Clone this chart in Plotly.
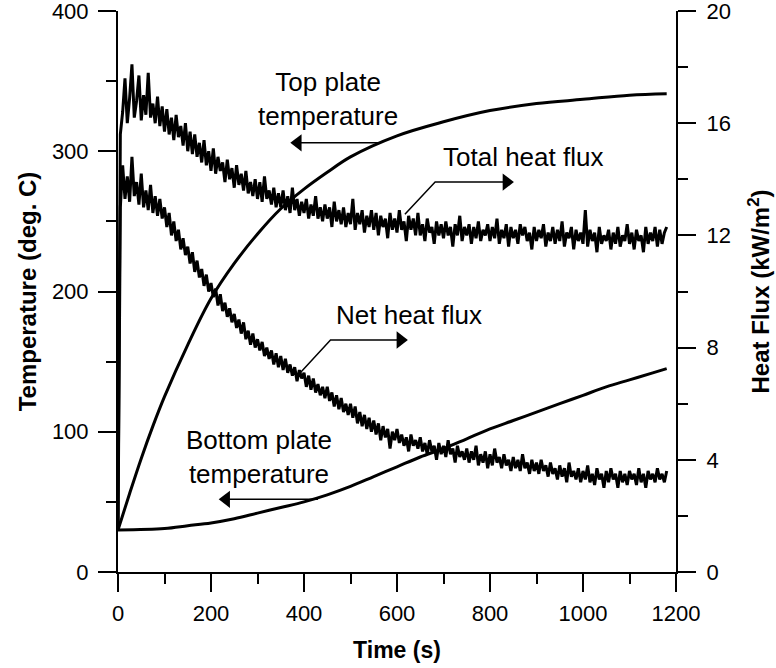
import plotly.graph_objects as go

# ---------------- data ----------------
time_flux = list(range(0, 1181, 5))

total_flux = [
    1.5, 15.6, 16.4, 17.6, 16.0, 16.9, 18.1, 16.2, 16.8, 17.7,
    16.1, 17.0, 16.3, 17.8, 16.2, 16.7, 16.0, 16.95, 15.9, 16.6,
    15.7, 16.5, 15.6, 16.2, 15.4, 16.3, 15.5, 15.9, 15.2, 16.0,
    15.0, 15.7, 14.9, 15.6, 14.8, 15.3, 14.6, 15.4, 14.5, 15.0,
    14.3, 15.1, 14.2, 14.8, 14.3, 14.6, 13.9, 14.7, 14.0, 14.4,
    13.7, 14.5, 13.8, 14.2, 13.6, 14.3, 13.5, 13.9, 13.4, 14.0,
    13.3, 13.9, 13.2, 14.1, 13.3, 13.6, 13.1, 13.7, 13.0, 13.5,
    13.0, 13.6, 12.9, 13.4, 12.8, 13.7, 12.9, 13.3, 12.7, 13.2,
    12.8, 13.3, 12.6, 13.1, 12.7, 13.4, 12.6, 13.0, 12.5, 13.1,
    12.6, 13.0, 12.3, 13.2, 12.5, 12.9, 12.4, 13.0, 12.3, 12.8,
    12.4, 13.3, 12.2, 12.8, 12.4, 12.9, 12.1, 12.7, 12.3, 12.9,
    12.2, 12.8, 12.0, 12.7, 12.3, 12.6, 11.9, 12.8, 12.2, 12.6,
    12.1, 12.9, 12.2, 12.5, 11.8, 12.7, 12.2, 12.6, 12.0, 12.8,
    12.0, 12.4, 11.8, 12.6, 12.1, 12.3, 11.7, 12.5, 12.0, 12.4,
    11.9, 12.5, 12.0, 12.3, 11.6, 12.4, 12.0, 12.7, 11.8, 12.3,
    12.0, 12.4, 11.7, 12.3, 11.9, 12.5, 11.8, 12.2, 12.0, 12.4,
    11.8, 12.3, 11.9, 12.6, 11.7, 12.2, 11.9, 12.4, 11.6, 12.3,
    11.9, 12.2, 11.7, 12.4, 12.0, 12.3, 11.8, 12.1, 11.5, 12.3,
    11.8, 12.2, 11.9, 12.4, 11.6, 12.1, 11.8, 12.3, 11.7, 12.2,
    11.8, 12.5, 11.6, 12.1, 11.9, 12.3, 11.5, 12.2, 11.8, 12.1,
    11.7, 12.9, 11.6, 12.2, 11.8, 12.1, 11.4, 12.3, 11.7, 12.0,
    11.8, 12.2, 11.5, 12.1, 11.7, 12.3, 11.6, 12.0, 11.8, 12.4,
    11.7, 12.1, 11.5, 12.2, 11.8, 12.0, 11.4, 12.3, 11.7, 12.1,
    11.8, 12.3, 11.6, 12.2, 11.7, 12.1, 12.3,
]

net_flux = [
    1.5, 13.0, 14.5, 13.3, 14.1, 13.2, 14.8, 13.4, 13.9, 13.1,
    14.2, 13.0, 13.6, 12.9, 13.8, 12.8, 13.4, 12.7, 13.3, 12.6,
    13.0, 12.3, 12.8, 12.0, 12.5, 11.8, 12.2, 11.5, 11.9, 11.3,
    11.6, 11.0, 11.4, 10.7, 11.1, 10.5, 10.8, 10.2, 10.6, 10.0,
    10.3, 9.8, 10.1, 9.5, 9.9, 9.3, 9.6, 9.1, 9.4, 8.9,
    9.2, 8.7, 9.0, 8.5, 8.9, 8.3, 8.6, 8.1, 8.5, 8.0,
    8.3, 7.9, 8.2, 7.7, 8.0, 7.6, 7.9, 7.4, 7.8, 7.3,
    7.7, 7.2, 7.6, 7.1, 7.4, 7.0, 7.3, 6.8, 7.2, 6.9,
    7.1, 6.6, 7.0, 6.5, 6.9, 6.4, 6.7, 6.3, 6.6, 6.2,
    6.6, 6.1, 6.4, 5.9, 6.3, 5.8, 6.2, 5.7, 6.0, 5.6,
    6.0, 5.5, 5.9, 5.3, 5.7, 5.2, 5.6, 5.1, 5.5, 5.0,
    5.4, 4.9, 5.3, 4.7, 5.2, 4.8, 5.1, 4.4, 5.0, 4.7,
    5.1, 4.6, 4.9, 4.5, 4.8, 4.3, 4.9, 4.5, 4.7, 4.4,
    4.8, 4.3, 4.6, 4.2, 4.7, 4.3, 4.5, 4.0, 4.6, 4.2,
    4.5, 4.1, 4.7, 4.2, 4.4, 3.9, 4.5, 4.1, 4.3, 4.0,
    4.4, 3.9, 4.3, 4.0, 4.5, 3.8, 4.2, 3.9, 4.3, 3.7,
    4.2, 3.8, 4.4, 3.9, 4.1, 3.7, 4.2, 3.8, 4.0, 3.6,
    4.1, 3.7, 4.0, 3.6, 4.2, 3.7, 3.9, 3.5, 4.0, 3.6,
    3.9, 3.5, 4.0, 3.6, 3.8, 3.4, 3.9, 3.5, 3.7, 3.3,
    3.8, 3.4, 3.7, 3.2, 3.9, 3.4, 3.6, 3.3, 3.7, 3.2,
    3.6, 3.3, 3.8, 3.2, 3.5, 3.1, 3.7, 3.3, 3.5, 3.0,
    3.6, 3.2, 3.7, 3.3, 3.5, 3.0, 3.6, 3.2, 3.5, 3.1,
    3.6, 3.3, 3.5, 3.1, 3.7, 3.2, 3.5, 3.0, 3.6, 3.3,
    3.5, 3.2, 3.7, 3.3, 3.5, 3.2, 3.6,
]

time_top = [0, 25, 50, 75, 100, 150, 200, 250, 300, 350, 400, 450, 500,
            600, 700, 800, 900, 1000, 1100, 1180]
top_temp = [30, 56, 81, 104, 125, 162, 195, 220, 241, 259, 273, 285, 296,
            311, 321, 329, 334, 337, 340, 341]

time_bot = [0, 100, 150, 200, 250, 300, 350, 400, 450, 500, 550, 600, 650,
            700, 750, 800, 850, 900, 950, 1000, 1050, 1100, 1150, 1180]
bot_temp = [30, 31, 33, 35, 38, 42, 46, 50, 55, 61, 68, 75, 82,
            88, 95, 102, 108, 114, 120, 126, 132, 137, 142, 145]

x_ticks = [0, 200, 400, 600, 800, 1000, 1200]
y_ticks = [0, 100, 200, 300, 400]
y2_ticks = [0, 4, 8, 12, 16, 20]

# annotation labels: (text, x, y in left-axis units)
labels = [
    ("Top plate<br>temperature", 452, 337),
    ("Total heat flux", 871, 296),
    ("Net heat flux", 626, 183),
    ("Bottom plate<br>temperature", 304, 82),
]
# leader / arrow polylines (left-axis units) and arrow-head placement
leaders = [
    ([564, 380], [306, 306], (386.7, 306, "triangle-left")),
    ([617, 682, 845], [255, 278, 278], (835.3, 278, "triangle-right")),
    ([392, 457, 617], [142, 165.4, 165.4], (607.3, 165.4, "triangle-right")),
    ([430, 226], [51.8, 51.8], (232.7, 51.8, "triangle-left")),
]

FONT = "Liberation Sans, Arial, sans-serif"

fig = go.Figure()
fig.add_trace(go.Scatter(x=time_top, y=top_temp, mode="lines", line=dict(color="black", width=3, shape="spline"),
                         name="Top plate temperature", showlegend=False))
fig.add_trace(go.Scatter(x=time_bot, y=bot_temp, mode="lines", line=dict(color="black", width=3, shape="spline"),
                         name="Bottom plate temperature", showlegend=False))
fig.add_trace(go.Scatter(x=time_flux, y=total_flux, mode="lines", line=dict(color="black", width=3),
                         name="Total heat flux", yaxis="y2", showlegend=False))
fig.add_trace(go.Scatter(x=time_flux, y=net_flux, mode="lines", line=dict(color="black", width=3),
                         name="Net heat flux", yaxis="y2", showlegend=False))

for lx, ly, (hx, hy, sym) in leaders:
    fig.add_trace(go.Scatter(x=lx, y=ly, mode="lines", line=dict(color="black", width=1.5),
                             hoverinfo="skip", showlegend=False))
    fig.add_trace(go.Scatter(x=[hx], y=[hy], mode="markers",
                             marker=dict(symbol=sym, size=15, color="black", line=dict(width=0)),
                             hoverinfo="skip", showlegend=False))

axis_common = dict(showline=True, linecolor="black", linewidth=2, ticks="outside", ticklen=18, tickwidth=2,
                   tickcolor="black", showgrid=False, zeroline=False, ticklabeloverflow="allow",
                   automargin=False, tickfont=dict(family=FONT, size=22, color="black"))

fig.update_layout(
    width=776, height=668,
    margin=dict(l=118, r=100, t=11, b=96),
    plot_bgcolor="white", paper_bgcolor="white",
    showlegend=False,
    xaxis=dict(range=[0, 1200], tickvals=x_ticks, **axis_common, ticklabelstandoff=3,
               minor=dict(dtick=100, ticklen=10, tickwidth=2, tickcolor="black", ticks="outside"),
               title=dict(text="<b>Time (s)</b>", font=dict(family=FONT, size=23, color="black"), standoff=16)),
    yaxis=dict(range=[0, 400], tickvals=y_ticks, **axis_common, ticklabelstandoff=5,
               minor=dict(dtick=50, ticklen=10, tickwidth=2, tickcolor="black", ticks="outside"),
               title=dict(text="<b>Temperature (deg. C)</b>", font=dict(family=FONT, size=24, color="black"), standoff=8)),
    yaxis2=dict(range=[0, 20], tickvals=y2_ticks, overlaying="y", side="right", anchor="x", **axis_common,
                ticklabelstandoff=6,
                minor=dict(dtick=2, ticklen=10, tickwidth=2, tickcolor="black", ticks="outside"),
                title=dict(text="<b>Heat Flux (kW/m<sup>2</sup>)</b>", font=dict(family=FONT, size=24, color="black"), standoff=22)),
)

ann_font = dict(family=FONT, size=26, color="black")
for txt, tx, ty in labels:
    fig.add_annotation(x=tx, y=ty, xref="x", yref="y", text=txt, showarrow=False, font=ann_font, align="center")

fig.write_html("out.html")
